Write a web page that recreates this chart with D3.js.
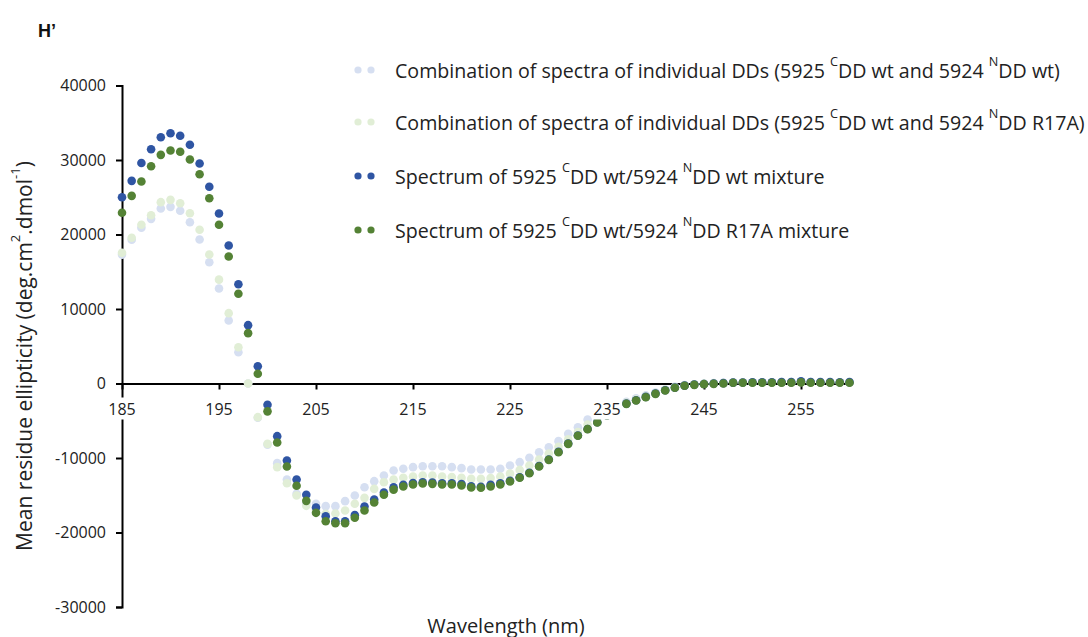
<!DOCTYPE html>
<html><head><meta charset="utf-8">
<script src="https://cdn.jsdelivr.net/npm/d3@7"></script>
<style>
body{margin:0;background:#fff;}
svg{display:block;}
text{font-family:"Open Sans",Lato,sans-serif;fill:#222;}
</style></head>
<body><svg id="c" width="1088" height="637"></svg>
<script>
const wavelengths = [185,186,187,188,189,190,191,192,193,194,195,196,197,198,199,200,201,202,203,204,205,206,207,208,209,210,211,212,213,214,215,216,217,218,219,220,221,222,223,224,225,226,227,228,229,230,231,232,233,234,235,236,237,238,239,240,241,242,243,244,245,246,247,248,249,250,251,252,253,254,255,256,257,258,259,260];

const combWt = [17300,19300,20900,22100,23490,23710,23180,21650,19330,16280,12750,8460,4200,0,-4600,-8200,-10690,-12890,-14810,-16060,-16150,-16460,-16460,-15790,-15030,-13920,-13110,-12350,-11680,-11450,-11230,-11100,-11100,-11100,-11230,-11360,-11540,-11540,-11540,-11450,-11010,-10560,-9980,-9220,-8550,-7740,-6760,-5870,-4830,-4000,-3300,-2700,-2450,-2000,-1600,-1200,-800,-450,-200,-100,0,50,100,150,150,150,160,170,180,180,250,180,170,170,160,170];

const combR17A = [17540,19560,21300,22590,24340,24650,24200,22860,20630,17320,13940,9440,4870,0,-4520,-8100,-11230,-13380,-15030,-16420,-17000,-17490,-17450,-17050,-16150,-15350,-14140,-13250,-12900,-12660,-12480,-12350,-12350,-12480,-12550,-12660,-12800,-12800,-12700,-12480,-12100,-11600,-11000,-10200,-9400,-8500,-7500,-6500,-5500,-4600,-3800,-3100,-2600,-2150,-1700,-1300,-850,-500,-250,-120,-30,20,60,100,120,130,130,140,150,150,200,150,140,140,130,140];

const mixWt = [25000,27200,29600,31450,33060,33600,33250,32040,29530,26400,22820,18520,13330,7830,2320,-2860,-7070,-10340,-12890,-14940,-16640,-17810,-18480,-18480,-17670,-16510,-15570,-14630,-13920,-13600,-13350,-13250,-13300,-13400,-13400,-13500,-13800,-13850,-13600,-13400,-13050,-12580,-11970,-11080,-10200,-9170,-8060,-6980,-6100,-5200,-4280,-3380,-2700,-2240,-1800,-1350,-900,-550,-280,-150,-60,0,50,120,140,160,160,170,180,180,300,200,180,180,170,180];

const mixR17A = [22910,25190,27110,29170,30690,31270,31100,30070,28090,24870,21300,17050,12040,6760,1300,-3740,-7920,-11140,-13730,-15750,-17360,-18480,-18750,-18750,-18030,-17050,-15970,-14940,-14250,-13830,-13560,-13420,-13470,-13560,-13560,-13690,-13960,-14000,-13830,-13560,-13150,-12660,-12040,-11140,-10250,-9220,-8100,-7020,-6130,-5230,-4300,-3400,-2730,-2280,-1840,-1390,-940,-580,-310,-180,-90,-45,0,100,100,100,100,100,100,100,150,100,100,100,100,100];

const xTicks = [185,195,205,215,225,235,245,255];
const yTicks = [-30000,-20000,-10000,0,10000,20000,30000,40000];

const seriesNames = [
  {pre:"Combination of spectra of individual DDs (5925 ", sup1:"C", mid:"DD wt and 5924 ", sup2:"N", post:"DD wt)"},
  {pre:"Combination of spectra of individual DDs (5925 ", sup1:"C", mid:"DD wt and 5924 ", sup2:"N", post:"DD R17A)"},
  {pre:"Spectrum of 5925 ", sup1:"C", mid:"DD wt/5924 ", sup2:"N", post:"DD wt mixture"},
  {pre:"Spectrum of 5925 ", sup1:"C", mid:"DD wt/5924 ", sup2:"N", post:"DD R17A mixture"}
];
const seriesValues = [combWt, combR17A, mixWt, mixR17A];
const colors = ["#d6dff1", "#e1eed6", "#2f55a3", "#548235"];

const svg = d3.select("#c");
const x = d3.scaleLinear().domain([185,260]).range([122,849.5]);
const y = d3.scaleLinear().domain([-30000,40000]).range([607,85.5]);

// H'
svg.append("text").attr("x",38).attr("y",37).style("font-family","Liberation Sans, Arial, sans-serif")
  .style("font-weight","bold").style("font-size","18px").style("fill","#111").text("H\u2019");

// axes
const yAxis = svg.append("g").attr("transform",`translate(${x(185)},0)`)
  .call(d3.axisLeft(y).tickValues(yTicks).tickSize(6).tickPadding(10).tickFormat(d=>String(d)));
yAxis.selectAll("text").style("font-size","16px").style("font-family","'Open Sans', sans-serif").style("fill","#222");
const xAxis = svg.append("g").attr("transform",`translate(0,${y(0)})`)
  .call(d3.axisBottom(x).tickValues(xTicks).tickSize(6).tickSizeOuter(0).tickFormat(""));
svg.selectAll(".domain, .tick line").attr("stroke","#000").attr("stroke-width",2);

// points
seriesValues.forEach((vals,si)=>{
  svg.append("g").selectAll("circle").data(vals).join("circle")
    .attr("cx",(d,i)=>x(wavelengths[i])).attr("cy",d=>y(d)).attr("r",4.3)
    .attr("fill",colors[si]);
});

// x tick labels on top (with white backgrounds)
const xl = svg.append("g").attr("transform",`translate(0,${y(0)})`);
xTicks.forEach(t=>{
  const g = xl.append("g");
  const tx = g.append("text").attr("x",x(t)).attr("y",25).attr("text-anchor","middle")
    .attr("dominant-baseline","central").style("font-size","16px").text(t);
  const bb = tx.node().getBBox();
  g.insert("rect","text").attr("x",bb.x-1).attr("y",bb.y).attr("width",bb.width+2).attr("height",bb.height).attr("fill","#fff");
});

// axis titles
svg.append("text").attr("x",506).attr("y",625).attr("text-anchor","middle")
  .attr("dominant-baseline","central").style("font-size","20px").text("Wavelength (nm)");
const yt = svg.append("text").attr("transform","translate(24,356) rotate(-90)").attr("text-anchor","middle")
  .attr("dominant-baseline","central").style("font-size","21px");
yt.append("tspan").text("Mean residue ellipticity (deg.cm");
yt.append("tspan").attr("baseline-shift","super").style("font-size","13px").text("2");
yt.append("tspan").text(".dmol");
yt.append("tspan").attr("baseline-shift","super").style("font-size","13px").text("-1");
yt.append("tspan").text(")");

// legend
const legY = [70,122,176,230];
let legFont = 17;
seriesNames.forEach((s,i)=>{
  const g = svg.append("g").attr("class","leg").attr("transform",`translate(0,${legY[i]})`);
  [358,371].forEach(cx=>g.append("circle").attr("cx",cx).attr("cy",0).attr("r",3.6).attr("fill",colors[i]));
  const t = g.append("text").attr("x",395).attr("y",0).attr("dominant-baseline","central").style("font-size",legFont+"px");
  t.append("tspan").text(s.pre);
  t.append("tspan").attr("baseline-shift","super").style("font-size","11px").text(s.sup1);
  t.append("tspan").text(s.mid);
  t.append("tspan").attr("baseline-shift","super").style("font-size","11px").text(s.sup2);
  t.append("tspan").text(s.post);
});
// fit first legend row to its width in the reference (ends near x=1060)
const firstT = svg.select(".leg text").node();
const w0 = firstT.getComputedTextLength();
const scale = 665 / w0;
svg.selectAll(".leg text").style("font-size",(legFont*scale)+"px")
  .selectAll("tspan[baseline-shift]").style("font-size",(11*scale)+"px");
</script></body></html>
